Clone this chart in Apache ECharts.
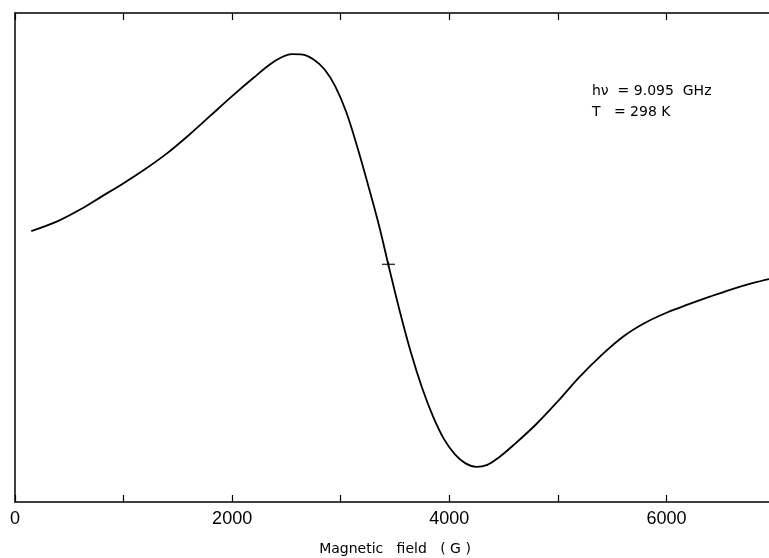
<!DOCTYPE html>
<html><head><meta charset="utf-8">
<script src="https://cdn.jsdelivr.net/npm/echarts@6/dist/echarts.min.js"></script>
<style>html,body{margin:0;padding:0;background:#fff}#c{width:769px;height:558px}</style>
</head><body><div id="c"></div>
<script>
// Magnetic field (G)
var fieldG = [150, 400, 600, 800, 1000, 1200, 1400, 1600, 1800, 2000, 2200, 2350, 2450, 2550, 2650, 2750, 2850, 2950, 3050, 3150, 3250, 3350, 3450, 3550, 3650, 3750, 3850, 3950, 4050, 4150, 4250, 4350, 4450, 4600, 4800, 5000, 5200, 5400, 5600, 5800, 6000, 6200, 6400, 6600, 6800, 6950];
// EPR derivative signal (arbitrary units)
var signal = [55.4, 57.5, 59.8, 62.5, 65.2, 68.1, 71.3, 75.0, 79.0, 83.0, 86.8, 89.5, 90.9, 91.6, 91.5, 90.5, 88.5, 85.0, 79.8, 72.8, 65.0, 56.8, 47.5, 38.5, 30.3, 23.3, 17.5, 12.9, 9.8, 7.9, 7.2, 7.6, 9.0, 11.8, 15.9, 20.6, 25.6, 30.0, 33.8, 36.6, 38.7, 40.4, 42.0, 43.5, 44.8, 45.6];
var centerMark = [3440, 48.6];
var xTickLabels = ['0', '2000', '4000', '6000'];
var annotLines = ['h\u03BD  = 9.095  GHz', 'T   = 298 K'];

var pts = fieldG.map(function (x, i) { return [x, signal[i]]; });
var chart = echarts.init(document.getElementById('c'));
chart.setOption({
  animation: false,
  backgroundColor: '#fff',
  grid: { left: 15, top: 13, width: 760, height: 489, outerBoundsMode: 'none', containLabel: false },
  xAxis: [{
    type: 'value', min: 0, max: 7000, interval: 1000, position: 'bottom',
    axisLine: { lineStyle: { color: '#000', width: 1.5 } },
    axisTick: { inside: true, length: 7, lineStyle: { color: '#000', width: 1.2 } },
    splitLine: { show: false },
    axisLabel: {
      color: '#000', fontFamily: 'Liberation Sans', fontSize: 18, margin: 8,
      formatter: function (v) { return xTickLabels.indexOf(String(v)) >= 0 ? String(v) : ''; }
    },
    name: 'Magnetic   field   ( G )', nameLocation: 'middle', nameGap: 40,
    nameTextStyle: { color: '#000', fontFamily: 'DejaVu Sans', fontSize: 14 }
  }, {
    type: 'value', min: 0, max: 7000, interval: 1000, position: 'top',
    axisLine: { lineStyle: { color: '#000', width: 1.5 } },
    axisTick: { inside: true, length: 7, lineStyle: { color: '#000', width: 1.2 } },
    axisLabel: { show: false }, splitLine: { show: false }
  }],
  yAxis: {
    type: 'value', min: 0, max: 100,
    axisLine: { show: true, lineStyle: { color: '#000', width: 1.5 } },
    axisTick: { show: false }, axisLabel: { show: false }, splitLine: { show: false }
  },
  series: [{
    type: 'line', data: pts, smooth: 0.35, showSymbol: false,
    lineStyle: { color: '#000', width: 1.8 }
  }, {
    type: 'scatter', data: [centerMark], symbol: 'rect', symbolSize: [13, 1.4],
    itemStyle: { color: '#000' }
  }, {
    type: 'scatter', data: [centerMark], symbol: 'rect', symbolSize: [1.4, 5],
    itemStyle: { color: '#000' }
  }],
  graphic: [{
    type: 'text', left: 592, top: 84,
    style: { text: annotLines[0], fill: '#000', font: '14px "DejaVu Sans"' }
  }, {
    type: 'text', left: 592, top: 105,
    style: { text: annotLines[1], fill: '#000', font: '14px "DejaVu Sans"' }
  }]
});
</script></body></html>
